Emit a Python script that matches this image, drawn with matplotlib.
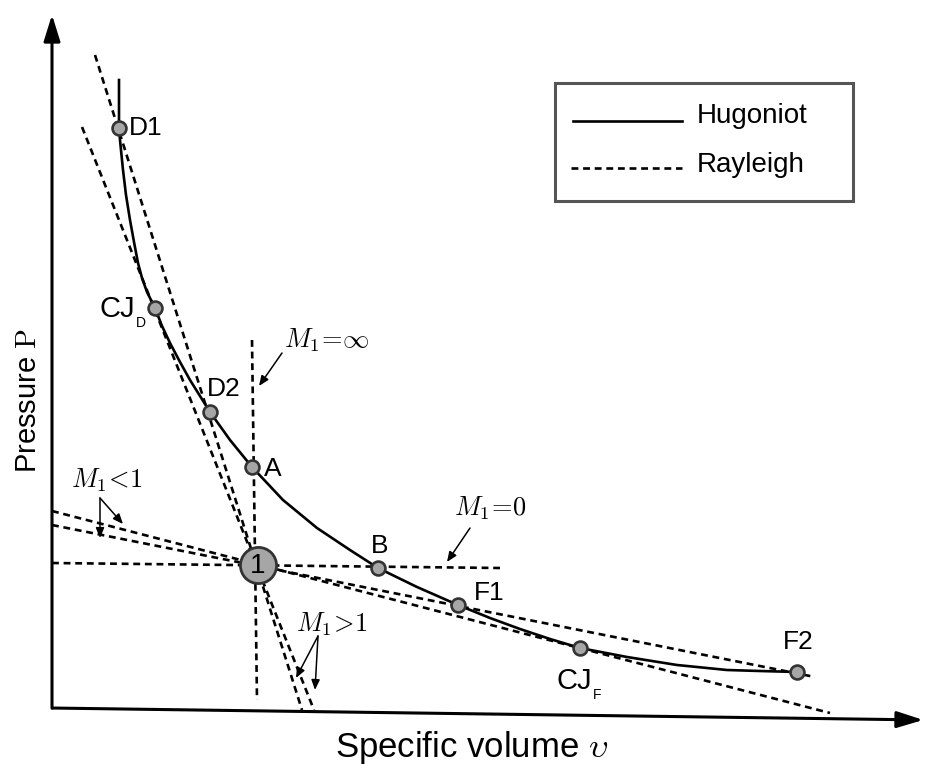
import matplotlib.pyplot as plt

plt.rcParams['font.family'] = ['Liberation Sans', 'DejaVu Sans']
plt.rcParams['mathtext.fontset'] = 'cm'

# positions (pixel frame, y down)
hug_v = [119, 119, 120, 121, 123, 126, 130, 134, 138, 142, 147, 155, 162, 170, 180, 190, 210, 230, 252,
         283, 317, 350, 378, 417, 458, 490, 520, 550, 580, 627, 677, 727, 760, 797]
hug_p = [80, 128, 140, 150, 170, 195, 220, 242, 263, 278, 292, 308, 326, 343, 362, 380, 412, 440, 467,
         500, 528, 550, 568, 587, 605, 618, 629, 639, 648, 657, 665, 670, 671, 672]

pt_names = ['D1', 'CJ', 'D2', 'A', 'B', 'F1', 'CJ', 'F2']
pt_subs = ['', 'D', '', '', '', '', 'F', '']
pt_v = [119, 155, 210, 252, 378, 458, 580, 797]
pt_p = [128, 308, 412, 467, 568, 605, 648, 672]
lab_v = [129, 135, 207, 264, 380, 474, 557, 798]
lab_p = [128, 309, 389, 469, 546, 593, 681, 642]
lab_ha = ['left', 'right', 'left', 'left', 'center', 'left', 'left', 'center']

state1 = (258, 565)

# Rayleigh lines: (start, end)
ray_v0 = [95, 82, 252, 52, 52, 52]
ray_p0 = [55, 127, 340, 563, 525, 511]
ray_v1 = [302, 314, 257, 500, 815, 830]
ray_p1 = [710, 710, 700, 568, 677, 713]

fig = plt.figure(figsize=(9.27, 7.66), dpi=100)
ax = fig.add_axes([0, 0, 1, 1])
ax.set_xlim(0, 927)
ax.set_ylim(766, 0)
ax.axis('off')

dash = (0, (2.6, 1.8))
for i in range(len(ray_v0)):
    ax.plot([ray_v0[i], ray_v1[i]], [ray_p0[i], ray_p1[i]], color='k', lw=1.9, linestyle=dash, zorder=2)

ax.plot(hug_v, hug_p, color='k', lw=1.9, zorder=3, solid_joinstyle='round')

ax.plot(pt_v, pt_p, 'o', ms=10, mfc='#a6a6a6', mec='#333333', mew=1.9, zorder=4, ls='none')
for i in range(len(pt_names)):
    fs = 21 if pt_subs[i] else 19
    t = ax.text(lab_v[i], lab_p[i], pt_names[i], fontsize=fs, ha=lab_ha[i], va='center', zorder=5)
    if pt_subs[i]:
        # subscript right after the 'CJ'
        ax.annotate(pt_subs[i], xy=(1, 0), xycoords=t, xytext=(0.5, 0), textcoords='offset points',
                    fontsize=10, ha='left', va='center')

ax.plot(*state1, 'o', ms=26, mfc='#a6a6a6', mec='#333333', mew=2, zorder=5)
ax.text(state1[0], state1[1] + 1, '1', fontsize=20, ha='center', va='center', zorder=6)

# axes arrows
ax.annotate('', xy=(52, 12), xytext=(52, 711),
            arrowprops=dict(arrowstyle='-|>,head_length=1.6,head_width=0.5', lw=2.2, color='k'))
ax.annotate('', xy=(926, 720), xytext=(50, 708),
            arrowprops=dict(arrowstyle='-|>,head_length=1.6,head_width=0.5', lw=2.2, color='k'))
ax.text(28, 401, r'Pressure $\mathrm{P}$', fontsize=21, rotation=90, ha='center', va='center')
ax.text(472, 748, r'Specific volume $\upsilon$', fontsize=25, ha='center', va='center')

# Mach number annotations
arr = dict(arrowstyle='-|>,head_length=0.6,head_width=0.25', lw=1.1, color='k', shrinkA=0, shrinkB=0)
ax.text(284, 340, r'$M_1\!=\!\infty$', fontsize=19, ha='left', va='center')
ax.annotate('', xy=(259, 386), xytext=(282, 353), arrowprops=arr)
ax.text(454, 508, r'$M_1\!=\!0$', fontsize=19, ha='left', va='center')
ax.annotate('', xy=(447, 562), xytext=(470, 528), arrowprops=arr)
ax.text(296, 624, r'$M_1\!>\!1$', fontsize=19, ha='left', va='center')
ax.annotate('', xy=(296, 678), xytext=(318, 636), arrowprops=arr)
ax.annotate('', xy=(315, 690), xytext=(318, 636), arrowprops=arr)
ax.text(71, 480, r'$M_1\!<\!1$', fontsize=19, ha='left', va='center')
ax.annotate('', xy=(100, 538), xytext=(100, 498), arrowprops=arr)
ax.annotate('', xy=(123, 524), xytext=(100, 498), arrowprops=arr)

# legend box
ax.add_patch(plt.Rectangle((555, 83), 298, 118, fill=False, ec='#555555', lw=2.2))
ax.plot([573, 682], [121, 121], color='k', lw=1.9)
ax.plot([571, 682], [168, 168], color='k', lw=1.9, linestyle=dash)
ax.text(697, 116, 'Hugoniot', fontsize=20, va='center')
ax.text(697, 165, 'Rayleigh', fontsize=20, va='center')

plt.savefig('out.png', dpi=100)
